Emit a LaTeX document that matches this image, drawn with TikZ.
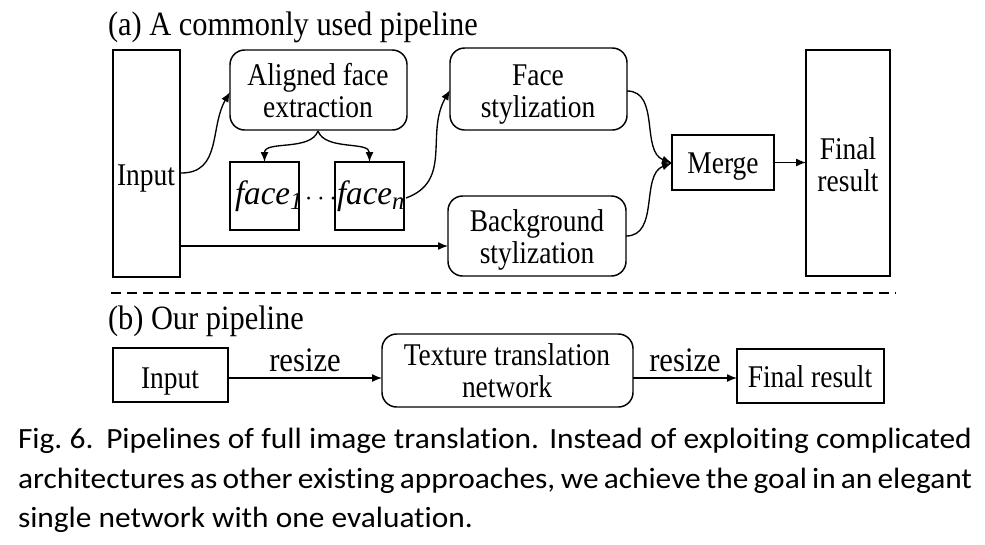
\documentclass[tikz,border=0pt]{standalone}
\usepackage{fontspec}
\usepackage{graphicx}
\setmainfont{Liberation Serif}
\newfontfamily\capfont[Ligatures=NoCommon]{Carlito}
\usetikzlibrary{fit,arrows.meta}
\newcommand{\tx}[1]{\scalebox{1}[1.15]{\begin{tabular}{@{}c@{}}#1\end{tabular}}}
\newcommand{\capfull}[1]{\scalebox{1.07}[1]{\makebox[668.7pt][s]{#1}}}
\newcommand{\capnat}[1]{\scalebox{1.07}[1]{#1}}
\begin{document}
\begin{tikzpicture}[x=0.75pt,y=-0.75pt,
  every node/.style={inner sep=0pt, outer sep=0pt},
  blk/.style={draw, line width=1.1pt, align=center},
  rblk/.style={blk, rounded corners=11pt},
  lbl/.style={font=\fontsize{20.6pt}{20.8pt}\selectfont},
  ttl/.style={anchor=west, font=\fontsize{22.8pt}{26pt}\selectfont},
  rsz/.style={above=5pt, font=\fontsize{23pt}{26pt}\selectfont},
  arr/.style={line width=1pt, -{Latex[length=7.5pt,width=6pt]}},
  fc/.style={font=\fontsize{23pt}{26pt}\selectfont\itshape},
  captxt/.style={anchor=base west, font=\capfont\fontsize{22pt}{26pt}\selectfont}
]
\useasboundingbox (0,0) rectangle (985,544);
% (a)
\node[ttl] (ta) at (108,27) {\scalebox{1}[1.12]{(a) A commonly used pipeline}};
\node[blk, fit={(113,50) (180,277)}] (in) {};
\node[lbl] (intext) at (146,179) {\tx{Input}};
\node[rblk, fit={(230,50) (407,130)}] (af) {};
\node[lbl] (aftext) at (318,95) {\tx{Aligned face\\extraction}};
\node[blk, fit={(230,162) (299,230)}] (f1) {};
\node[blk, fit={(335,162) (404,230)}] (fn) {};
\node[fc, anchor=base west] (f1t) at (235,204) {\scalebox{1.08}[1.1]{face\raisebox{-4pt}{\fontsize{17pt}{20pt}\selectfont 1}}};
\node[anchor=base] (dots) at (321,205) {\fontsize{20pt}{24pt}\selectfont$\cdots$};
\node[fc, anchor=base west] (fnt) at (337,204) {\scalebox{1.08}[1.1]{face\raisebox{-4pt}{\fontsize{17pt}{20pt}\selectfont\itshape n}}};
\node[rblk, fit={(450,48) (627,130)}] (fs) {};
\node[lbl] (fstext) at (538,95) {\tx{Face\\stylization}};
\node[rblk, fit={(448,196) (626,276)}] (bs) {};
\node[lbl] (bstext) at (537,241) {\tx{Background\\stylization}};
\node[blk, fit={(672,135) (774,190)}] (mg) {};
\node[lbl] (mgtext) at (723,167) {\tx{Merge}};
\node[blk, fit={(806,50) (890,276)}] (fr) {};
\node[lbl] (frtext) at (848,169) {\tx{Final\\result}};
\coordinate (inA) at (181,173);
\coordinate (inB) at (181,246);
\coordinate (afB) at (318,131);
\coordinate (fnR) at (406,198);
\coordinate (fsR) at (627,91);
\coordinate (bsR) at (626,236);
\coordinate (mgL) at (672,163);
\draw[arr] (inA) to[out=0,in=240,looseness=1.1] (230,92);
\draw[arr] (inB) -- (bs.west |- inB);
\draw[arr] (afB) to[out=-110,in=90,looseness=0.9] (f1.north);
\draw[arr] (afB) to[out=-70,in=90,looseness=0.9] (fn.north);
\draw[arr] (fnR) to[out=20,in=240,looseness=1.1] (450,90);
\draw[arr] (fsR) to[out=0,in=160] (mgL);
\draw[arr] (bsR) to[out=0,in=200] (mgL);
\draw[arr] (mg.east) -- (fr.west |- mg.east);
% separator
\draw[line width=1pt, dash pattern=on 7.5pt off 4.5pt] (111,293) -- (896,293);
% (b)
\node[ttl] (tb) at (108,321) {\scalebox{1}[1.12]{(b) Our pipeline}};
\node[blk, fit={(113,348) (228,402)}] (in2) {};
\node[lbl] (in2t) at (170,382) {\tx{Input}};
\node[rblk, fit={(382,334) (633,407)}] (tt) {};
\node[lbl] (ttt) at (507,375) {\tx{Texture translation\\network}};
\node[blk, fit={(737,349) (884,403)}] (fr2) {};
\node[lbl] (fr2t) at (810,381) {\tx{Final result}};
\draw[arr] (in2.east |- 0,378) -- node[rsz] (rs1) {\scalebox{1}[1.12]{resize}} (tt.west |- 0,378);
\draw[arr] (tt.east |- 0,378) -- node[rsz] (rs2) {\scalebox{1}[1.12]{resize}} (fr2.west |- 0,378);
% caption
\node[captxt] (c1) at (18,448) {\capfull{Fig.~6.\kern 9pt Pipelines of full image translation. Instead of exploiting complicated}};
\node[captxt] (c2) at (18,488) {\capfull{architectures as other existing approaches, we achieve the goal in an elegant}};
\node[captxt] (c3) at (18,527) {\capnat{single network with one evaluation.}};
\end{tikzpicture}
\end{document}
